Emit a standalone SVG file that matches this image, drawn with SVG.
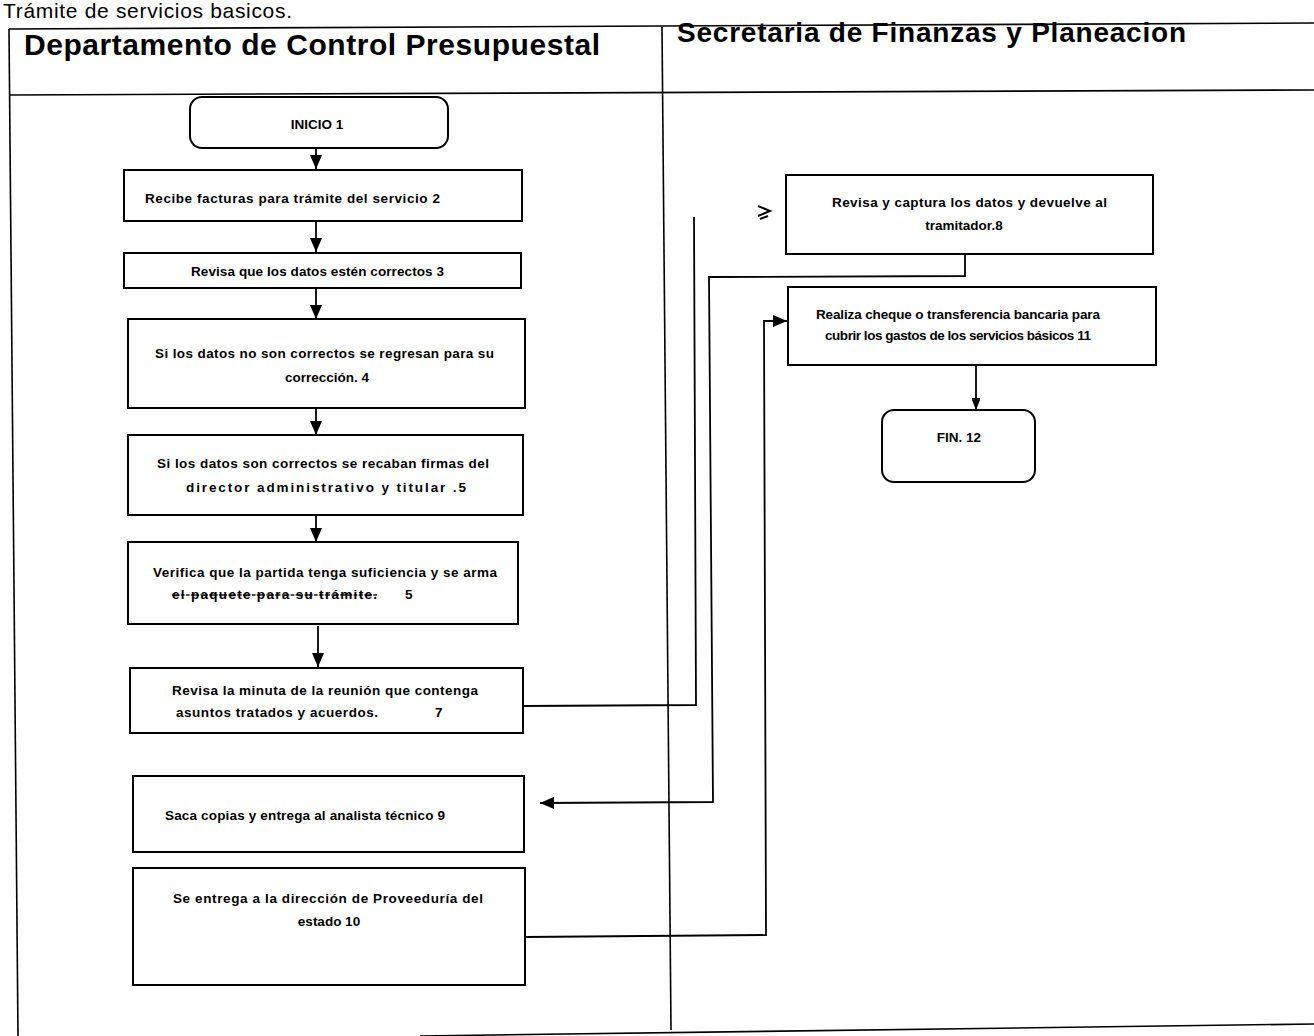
<svg xmlns="http://www.w3.org/2000/svg" width="1314" height="1036" viewBox="0 0 1314 1036">
<style>
  .frame { stroke: #000; stroke-width: 1.6; fill: none; }
  .box { stroke: #000; stroke-width: 2; fill: #fff; }
  .conn { stroke: #000; stroke-width: 1.8; fill: none; }
  .t { font-family: "Liberation Sans", Arial, sans-serif; font-size: 13.5px; font-weight: bold; fill: #000; }
  .c { text-anchor: middle; }
  .hdr { font-family: "Liberation Sans", Arial, sans-serif; font-size: 30px; font-weight: bold; fill: #000; }
  .title { font-family: "Liberation Sans", Arial, sans-serif; font-size: 21px; fill: #000; }
</style>
<defs>
  <marker id="arr" viewBox="0 0 14 12" markerWidth="14" markerHeight="12" refX="14" refY="6" orient="auto" markerUnits="userSpaceOnUse">
    <path d="M0,0 L14,6 L0,12 z" fill="#000"/>
  </marker>
  <marker id="arrs" viewBox="0 0 10 8" markerWidth="10" markerHeight="8" refX="10" refY="4" orient="auto" markerUnits="userSpaceOnUse">
    <path d="M0,0 L10,4 L0,8 z" fill="#000"/>
  </marker>
</defs>
<rect x="0" y="0" width="1314" height="1036" fill="#fff"/>

<text class="title" x="3" y="18" textLength="289">Trámite de servicios basicos.</text>

<g id="frame">
  <line class="frame" x1="9" y1="29" x2="1314" y2="23"/>
  <line class="frame" x1="9" y1="29" x2="18" y2="1036"/>
  <line class="frame" x1="9" y1="95" x2="1314" y2="90"/>
  <line class="frame" x1="662" y1="27" x2="671" y2="1030"/>
  <line class="frame" x1="420" y1="1036" x2="1314" y2="1024"/>
  <text class="hdr" x="24" y="55" textLength="576">Departamento de Control Presupuestal</text>
  <text class="hdr" x="677" y="42" style="font-size:28px" textLength="509">Secretaria de Finanzas y Planeacion</text>
</g>

<g id="connectors">
  <line class="conn" x1="316" y1="148" x2="316" y2="169" marker-end="url(#arr)"/>
  <line class="conn" x1="316" y1="221" x2="316" y2="252" marker-end="url(#arr)"/>
  <line class="conn" x1="316" y1="288" x2="316" y2="319" marker-end="url(#arr)"/>
  <line class="conn" x1="316" y1="408" x2="316" y2="435" marker-end="url(#arr)"/>
  <line class="conn" x1="316" y1="515" x2="316" y2="542" marker-end="url(#arr)"/>
  <line class="conn" x1="318" y1="626" x2="318" y2="667" marker-end="url(#arr)"/>
  <polyline class="conn" points="523,706 696,705 694,217"/>
  <path d="M758,206 L770,211 L758,216 M760,219 L768,216" stroke="#000" stroke-width="2" fill="none"/>
  <polyline class="conn" points="965,254 965,276 709,277 713,802 540,803" marker-end="url(#arr)"/>
  <polyline class="conn" points="525,937 766,935 764,321 787,321" marker-end="url(#arr)"/>
  <line class="conn" x1="976" y1="365" x2="976" y2="410" marker-end="url(#arrs)"/>
  <line class="conn" x1="972" y1="399" x2="980" y2="399"/>
</g>

<g id="n1">
  <rect class="box" x="190" y="97" width="258" height="51" rx="12"/>
  <text class="t c" x="317" y="129">INICIO 1</text>
</g>
<g id="n2">
  <rect class="box" x="124" y="170" width="398" height="51"/>
  <text class="t" x="145" y="203" textLength="295">Recibe facturas para trámite del servicio 2</text>
</g>
<g id="n3">
  <rect class="box" x="124" y="253" width="397" height="35"/>
  <text class="t" x="191" y="276" textLength="253">Revisa que los datos estén correctos 3</text>
</g>
<g id="n4">
  <rect class="box" x="128" y="319" width="397" height="89"/>
  <text class="t" x="155" y="358" textLength="339">Si los datos no son correctos se regresan para su</text>
  <text class="t c" x="327" y="382">corrección. 4</text>
</g>
<g id="n5">
  <rect class="box" x="128" y="435" width="395" height="80"/>
  <text class="t" x="157" y="468" textLength="332">Si los datos son correctos se recaban firmas del</text>
  <text class="t" x="186" y="492" textLength="280">director administrativo y titular .5</text>
</g>
<g id="n6">
  <rect class="box" x="128" y="542" width="390" height="82"/>
  <text class="t" x="153" y="577" textLength="344">Verifica que la partida tenga suficiencia y se arma</text>
  <text class="t" x="172" y="599" textLength="205" text-decoration="line-through">el paquete para su trámite.</text>
  <text class="t" x="405" y="599">5</text>
</g>
<g id="n7">
  <rect class="box" x="130" y="668" width="393" height="65"/>
  <text class="t" x="172" y="695" textLength="306">Revisa la minuta de la reunión que contenga</text>
  <text class="t" x="176" y="717" textLength="202">asuntos tratados y acuerdos.</text>
  <text class="t" x="435" y="717">7</text>
</g>
<g id="n9">
  <rect class="box" x="133" y="776" width="391" height="76"/>
  <text class="t" x="165" y="820" textLength="280">Saca copias y entrega al analista técnico 9</text>
</g>
<g id="n10">
  <rect class="box" x="133" y="868" width="392" height="117"/>
  <text class="t" x="173" y="903" textLength="310">Se entrega a la dirección de Proveeduría del</text>
  <text class="t c" x="329" y="926">estado 10</text>
</g>
<g id="n8">
  <rect class="box" x="786" y="175" width="367" height="79"/>
  <text class="t" x="832" y="207" textLength="275">Revisa y captura los datos y devuelve al</text>
  <text class="t c" x="964" y="230">tramitador.8</text>
</g>
<g id="n11">
  <rect class="box" x="788" y="287" width="368" height="78"/>
  <text class="t" x="816" y="319" textLength="284">Realiza cheque o transferencia bancaria para</text>
  <text class="t" x="825" y="340" textLength="266">cubrir los gastos de los servicios básicos 11</text>
</g>
<g id="n12">
  <rect class="box" x="882" y="410" width="153" height="72" rx="12"/>
  <text class="t c" x="959" y="442">FIN. 12</text>
</g>
</svg>
